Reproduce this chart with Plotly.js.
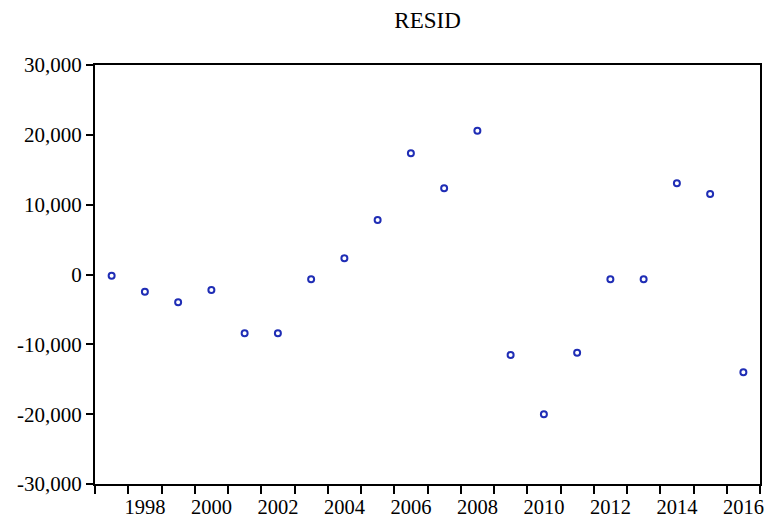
<!DOCTYPE html>
<html>
<head>
<meta charset="utf-8">
<script src="https://cdn.plot.ly/plotly-3.0.1.min.js"></script>
<style>html,body{margin:0;padding:0;background:#fff;}#chart{width:769px;height:520px;}</style>
</head>
<body>
<div id="chart"></div>
<script>
const years = [1997,1998,1999,2000,2001,2002,2003,2004,2005,2006,2007,2008,2009,2010,2011,2012,2013,2014,2015,2016];
const resid = [-170,-2460,-3980,-2220,-8420,-8420,-690,2320,7800,17360,12340,20590,-11530,-20020,-11200,-690,-690,13060,11530,-14000];
const yTickVals = [-30000,-20000,-10000,0,10000,20000,30000];
const yTickText = ["-30,000","-20,000","-10,000","0","10,000","20,000","30,000"];
const xLabelVals = [1998,2000,2002,2004,2006,2008,2010,2012,2014,2016];
const xTickBounds = [1996.5,1997.5,1998.5,1999.5,2000.5,2001.5,2002.5,2003.5,2004.5,2005.5,2006.5,2007.5,2008.5,2009.5,2010.5,2011.5,2012.5,2013.5,2014.5,2015.5,2016.5];

const font = {family: '"Liberation Serif", "Times New Roman", serif', size: 21, color: '#000'};
const xfont = {family: font.family, size: 20.5, color: '#000'};

const trace = {
  x: years, y: resid, type: 'scatter', mode: 'markers',
  marker: {symbol: 'circle-open', size: 6, color: '#1f2db5', line: {width: 2, color: '#1f2db5'}},
  hoverinfo: 'none', showlegend: false
};

const layout = {
  width: 769, height: 520,
  margin: {l: 95, r: 9, t: 65, b: 36},
  paper_bgcolor: '#fff', plot_bgcolor: '#fff',
  font: font,
  title: {text: 'RESID', font: {family: font.family, size: 23, color: '#000'}, x: 0.556, xanchor: 'center', y: 0.962, yanchor: 'middle'},
  xaxis: {
    range: [1996.5, 2016.5], showgrid: false, zeroline: false,
    showline: true, linecolor: '#000', linewidth: 2, mirror: true,
    tickmode: 'array', tickvals: xLabelVals, ticktext: xLabelVals.map(String),
    ticks: '', ticklen: 0, tickfont: xfont, ticklabelstandoff: 3,
    minor: {tickmode: 'array', tickvals: xTickBounds, ticks: 'outside', ticklen: 8, tickwidth: 2, tickcolor: '#000', showgrid: false}
  },
  yaxis: {
    range: [-30000, 30000], showgrid: false, zeroline: false,
    showline: true, linecolor: '#000', linewidth: 2, mirror: true,
    tickmode: 'array', tickvals: yTickVals, ticktext: yTickText,
    ticks: 'outside', ticklen: 7, tickwidth: 2, tickcolor: '#000', tickfont: font
  }
};

Plotly.newPlot('chart', [trace], layout, {displayModeBar: false, staticPlot: true});
</script>
</body>
</html>
